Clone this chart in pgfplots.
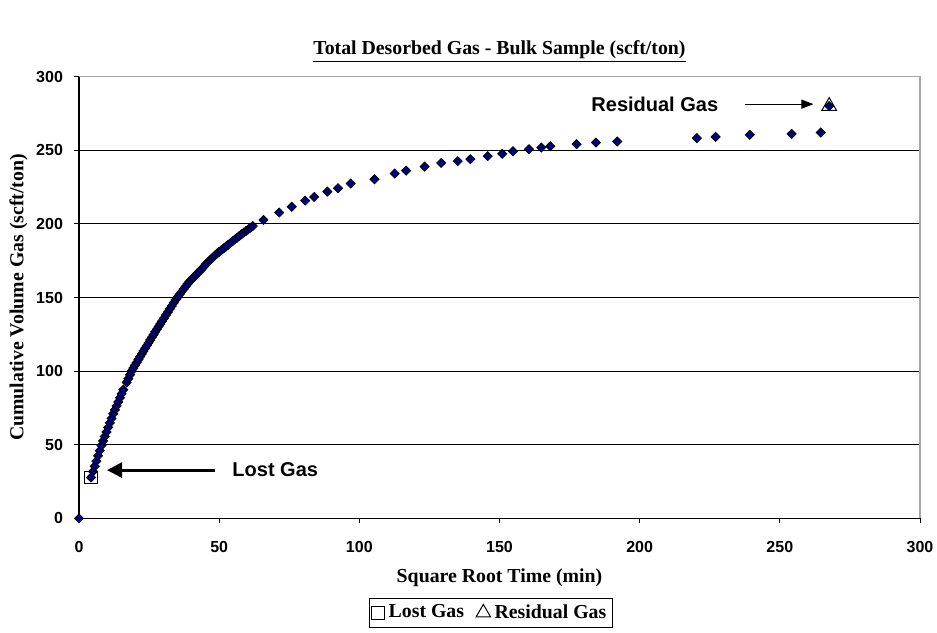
\documentclass[border=0pt]{standalone}
\usepackage{fontspec}
\setmainfont{Liberation Serif}
\newfontfamily\arial{Liberation Sans}
\usepackage{pgfplots}
\pgfplotsset{compat=1.18}
\usetikzlibrary{arrows.meta}
\definecolor{navy}{HTML}{000080}
\begin{document}
\begin{tikzpicture}
\useasboundingbox (-39.5pt,-56.85pt) rectangle (429pt,259.2pt);
\begin{axis}[
 at={(0,0)}, anchor=south west,
 scale only axis, width=420.5pt, height=220.9pt,
 xmin=0,xmax=300,ymin=0,ymax=300,
 xtick={0,50,...,300}, ytick={0,50,...,300},
 axis x line*=bottom, axis y line*=left,
 ymajorgrids, major grid style={black, line width=0.5pt},
 tick align=outside, major tick length=2.5pt,
 tick style={black, line width=0.5pt},
 axis line style={black, line width=0.6pt},
 ticklabel style={font=\arial\bfseries\fontsize{8}{9}\selectfont},
 /pgf/number format/assume math mode=true,
 xticklabel style={yshift=-5.5pt},
 yticklabel style={xshift=-2pt},
 clip=false,
 xlabel={Square Root Time (min)}, ylabel={Cumulative Volume Gas (scft/ton)},
 label style={font=\bfseries\fontsize{9.9}{11}\selectfont},
 xlabel style={at={(axis description cs:0.5,-0.135)}, anchor=center},
 ylabel style={at={(axis description cs:-0.072,0.5)}, anchor=center},
 legend style={at={(axis description cs:0.49,-0.18)}, anchor=north, legend columns=2, draw=black, line width=0.5pt,
   font=\bfseries\fontsize{9.9}{11}\selectfont, inner sep=1pt,
   /tikz/every even column/.append style={column sep=4pt}},
 legend cell align=left,
]
\addplot[only marks, mark=square*, mark size=1.6pt, forget plot,
  mark options={rotate=45, fill=navy, draw=black, line width=0.4pt}] coordinates {
(0,0)
(4.3,27.8)(5.0,31.9)(5.6,35.4)(6.2,38.9)(6.8,42.5)(7.4,46.0)(8.0,49.5)(8.6,52.6)(9.2,55.6)(9.8,58.7)
(10.4,61.8)(11.0,64.9)(11.6,67.9)(12.2,71.0)(12.8,73.7)(13.4,76.4)(14.0,79.1)(14.6,81.9)(15.2,84.6)(15.8,87.4)
(17.0,92.4)(17.6,94.9)(18.2,97.5)(18.8,100.0)(19.4,102.0)(20.0,104.0)(20.6,105.9)(21.2,107.9)(21.8,109.8)
(22.4,111.7)(23.0,113.6)(23.6,115.5)(24.2,117.4)(24.8,119.2)(25.4,121.1)(26.0,123.0)(26.6,124.8)(27.2,126.7)
(27.8,128.5)(28.4,130.3)(29.0,132.0)(29.6,133.8)(30.3,135.9)(31.0,138.0)(31.7,140.1)(32.4,142.2)(33.1,144.3)
(33.8,146.4)(34.5,148.5)(35.2,150.3)(35.9,152.1)(36.6,153.9)(37.3,155.7)(38.0,157.4)(38.7,159.2)(39.4,160.8)
(40.1,162.1)(40.8,163.5)(41.5,164.9)(42.2,166.3)(42.9,167.6)(43.6,169.0)(44.4,170.6)(45.2,172.5)(46.0,174.0)
(46.8,175.5)(47.6,176.9)(48.4,178.4)(49.2,179.8)(50.0,181.0)(50.8,182.2)(51.6,183.4)(52.4,184.6)(53.2,185.8)
(54.0,187.0)(54.8,188.2)(55.6,189.4)(56.4,190.6)(57.2,191.8)(58.0,193.0)(58.8,194.1)(59.6,195.2)(60.4,196.3)
(61.2,197.4)(62.0,198.5)
(65.8,202.7)(71.4,207.7)(75.9,211.6)(80.7,215.8)(83.9,218.3)(88.6,221.9)(92.4,224.2)(96.9,227.4)
(105.4,230.3)(112.6,234.2)(116.7,236.2)(123.3,238.9)(129.2,241.4)(135.1,242.6)(139.6,243.9)(145.8,246.0)
(151.0,247.6)(154.8,249.3)(160.5,250.7)(164.9,251.8)(168.1,252.7)(177.5,254.1)(184.4,255.2)(192.0,255.9)
(220.4,258.2)(227.1,259.1)(239.3,260.5)(254.2,261.1)(264.6,262.0)(267.6,280.0)
};
\addplot[only marks, mark=square, mark size=3.2pt, mark options={draw=black, line width=0.5pt}] coordinates {(4.3,27.8)};
\addlegendentry{Lost Gas}
\addplot[only marks, mark=triangle, mark size=4.2pt, mark options={draw=black, line width=0.5pt}] coordinates {(267.6,280.0)};
\addlegendentry{Residual Gas}
\draw[gray!70, line width=0.6pt] (rel axis cs:0,1) -- (rel axis cs:1,1) -- (rel axis cs:1,0);
\draw[-{Triangle[length=7.5pt,width=7.5pt]}, line width=1.5pt] (axis cs:48.6,32.8) -- (axis cs:10,32.8);
\draw[-{Triangle[length=6pt,width=4.5pt]}, line width=0.5pt] (axis cs:237.6,281.3) -- (axis cs:262,281.3);
\node[font=\arial\bfseries\fontsize{10}{12}\selectfont] at (axis cs:70,32.8) {Lost Gas};
\node[font=\arial\bfseries\fontsize{10}{12}\selectfont] at (axis cs:205.4,281.3) {Residual Gas};
\node[font=\bfseries\fontsize{9.9}{11}\selectfont, yshift=12.3pt] at (rel axis cs:0.5,1) {\underline{Total Desorbed Gas - Bulk Sample (scft/ton)}};
\end{axis}
\end{tikzpicture}
\end{document}
